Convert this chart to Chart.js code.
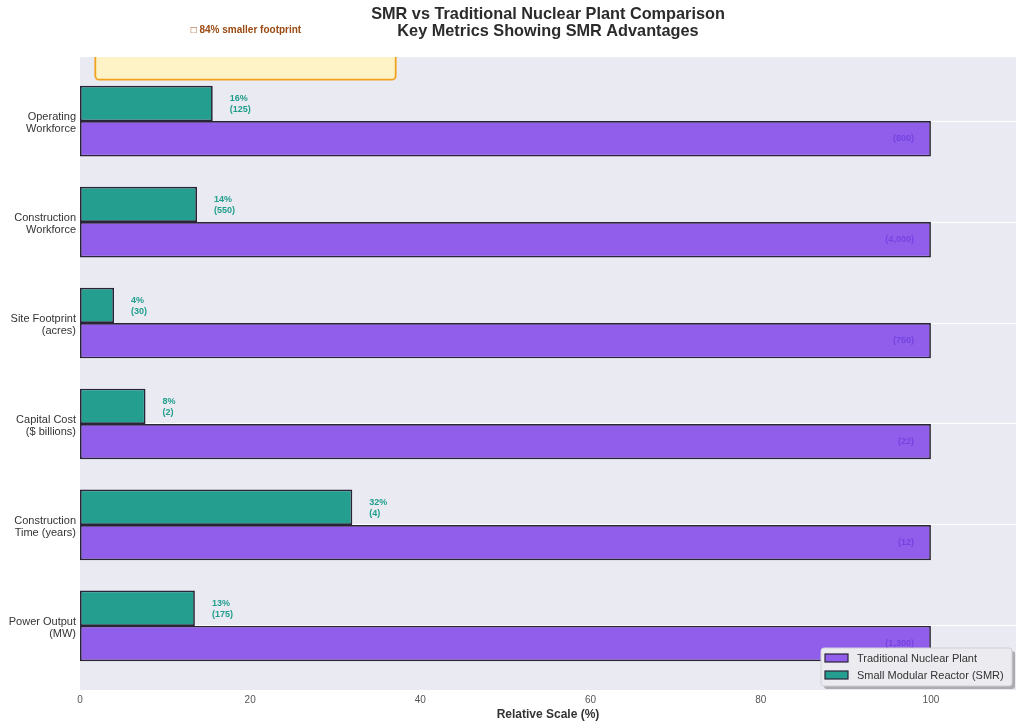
<!DOCTYPE html>
<html>
<head>
<meta charset="utf-8">
<script src="https://cdn.jsdelivr.net/npm/chart.js@4.4.1/dist/chart.umd.min.js"></script>
<style>
html,body{margin:0;padding:0;background:#fff;}
#wrap{width:1024px;height:728px;}
</style>
</head>
<body>
<div id="wrap"><canvas id="c" width="1024" height="728"></canvas></div>
<script>
// ---- data (bottom to top) ----
const categories = [["Power Output","(MW)"],["Construction","Time (years)"],["Capital Cost","($ billions)"],["Site Footprint","(acres)"],["Construction","Workforce"],["Operating","Workforce"]];
const traditionalPct = [100, 100, 100, 100, 100, 100];
const smrPct = [13.5, 32, 7.7, 4, 13.75, 15.6];
const smrPctLabels = ["13%", "32%", "8%", "4%", "14%", "16%"];
const smrRawLabels = ["(175)", "(4)", "(2)", "(30)", "(550)", "(125)"];
const tradRawLabels = ["(1,300)", "(12)", "(22)", "(750)", "(4,000)", "(800)"];
const xTicks = [0, 20, 40, 60, 80, 100];
const titleLines = ['SMR vs Traditional Nuclear Plant Comparison', 'Key Metrics Showing SMR Advantages'];
const calloutText = "\u25A1 84% smaller footprint";

const TEAL = '#239E8F';
const PURPLE = '#915EEB';
const EDGE = '#2a2438';

Chart.defaults.font.family = "'Liberation Sans', Arial, sans-serif";

const bgPlugin = {
  id: 'bg',
  beforeDraw(chart) {
    const {ctx, chartArea: a} = chart;
    ctx.save();
    ctx.fillStyle = '#EAEAF2';
    ctx.fillRect(a.left, a.top, a.right - a.left, a.bottom - a.top);
    ctx.restore();
  },
  beforeDatasetsDraw(chart) {
    const {ctx, chartArea: a, scales} = chart;
    const x = scales.x, y = scales.y;
    ctx.save();
    ctx.beginPath();
    ctx.rect(a.left, a.top, a.right - a.left, a.bottom - a.top);
    ctx.clip();
    const x0 = x.getPixelForValue(1.8), x1 = x.getPixelForValue(37.1);
    const yb = y.getPixelForValue(5.41);
    const yt = a.top - 30;
    ctx.beginPath();
    ctx.roundRect(x0, yt, x1 - x0, yb - yt, 4);
    ctx.fillStyle = '#FEF3C7';
    ctx.fill();
    ctx.lineWidth = 1.8;
    ctx.strokeStyle = '#F2A21E';
    ctx.stroke();
    ctx.restore();
  },
  afterDatasetsDraw(chart) {
    const {ctx, scales} = chart;
    const x = scales.x;
    const mSmr = chart.getDatasetMeta(0);
    const mTrad = chart.getDatasetMeta(1);
    ctx.save();
    ctx.font = "bold 9px 'Liberation Sans', Arial, sans-serif";
    ctx.textBaseline = 'middle';
    mSmr.data.forEach((bar, i) => {
      const tx = x.getPixelForValue(smrPct[i] + 2);
      ctx.fillStyle = '#1f9e8c';
      ctx.textAlign = 'left';
      ctx.fillText(smrPctLabels[i], tx, bar.y - 5);
      ctx.fillText(smrRawLabels[i], tx, bar.y + 6);
    });
    mTrad.data.forEach((bar, i) => {
      const tx = x.getPixelForValue(98);
      ctx.fillStyle = 'rgba(112,62,222,0.85)';
      ctx.textAlign = 'right';
      ctx.fillText(tradRawLabels[i], tx, bar.y);
    });
    ctx.restore();
  },
  afterDraw(chart) {
    const {ctx, chartArea: a, scales} = chart;
    ctx.save();
    // title centred over the plot area
    const cx = (a.left + a.right) / 2;
    ctx.font = "bold 16.3px 'Liberation Sans', Arial, sans-serif";
    ctx.fillStyle = '#2b2b2b';
    ctx.textAlign = 'center';
    ctx.textBaseline = 'middle';
    ctx.fillText(titleLines[0], cx, 15);
    ctx.fillText(titleLines[1], cx, 32);
    // callout text
    ctx.font = "bold 10px 'Liberation Sans', Arial, sans-serif";
    ctx.fillStyle = '#9A4A12';
    ctx.fillText(calloutText, scales.x.getPixelForValue(19.5), a.top - 27);
    // legend
    const lx = 821, ly = 648, lw = 191, lh = 38;
    ctx.fillStyle = 'rgba(120,120,120,0.55)';
    ctx.beginPath(); ctx.roundRect(lx + 3, ly + 3, lw, lh, 3); ctx.fill();
    ctx.fillStyle = '#EBEBF0';
    ctx.strokeStyle = '#cfcfd6';
    ctx.lineWidth = 1;
    ctx.beginPath(); ctx.roundRect(lx, ly, lw, lh, 3); ctx.fill(); ctx.stroke();
    const items = chart.data.datasets.slice().reverse();
    ctx.font = "11px 'Liberation Sans', Arial, sans-serif";
    ctx.textAlign = 'left';
    items.forEach((ds, k) => {
      const cy = ly + 10 + k * 17;
      ctx.fillStyle = ds.backgroundColor;
      ctx.fillRect(lx + 4, cy - 4, 23, 8);
      ctx.strokeStyle = EDGE;
      ctx.lineWidth = 1.2;
      ctx.strokeRect(lx + 4, cy - 4, 23, 8);
      ctx.fillStyle = '#333';
      ctx.fillText(ds.label, lx + 36, cy + 0.5);
    });
    ctx.restore();
  }
};

new Chart(document.getElementById('c'), {
  type: 'bar',
  data: {
    datasets: [
      {
        label: 'Small Modular Reactor (SMR)',
        data: smrPct.map((v, i) => ({x: v, y: i})),
        backgroundColor: TEAL,
        borderColor: EDGE,
        borderWidth: 1.7,
        borderSkipped: false,
        categoryPercentage: 0.7,
        barPercentage: 1.0
      },
      {
        label: 'Traditional Nuclear Plant',
        data: traditionalPct.map((v, i) => ({x: v, y: i})),
        backgroundColor: PURPLE,
        borderColor: EDGE,
        borderWidth: 1.7,
        borderSkipped: false,
        categoryPercentage: 0.7,
        barPercentage: 1.0
      }
    ]
  },
  options: {
    indexAxis: 'y',
    responsive: false,
    animation: false,
    devicePixelRatio: 1,
    layout: { padding: { left: 0, right: 8, top: 57, bottom: 0 } },
    plugins: {
      legend: { display: false },
      tooltip: { enabled: false },
      title: { display: false }
    },
    scales: {
      x: {
        type: 'linear',
        min: 0,
        max: 110,
        grid: { display: false, drawTicks: false },
        border: { display: false },
        afterBuildTicks(scale) { scale.ticks = xTicks.map(v => ({value: v})); },
        afterFit(scale) { scale.height = 38; },
        ticks: { color: '#555', font: { size: 10 }, padding: 4 },
        title: {
          display: true,
          text: 'Relative Scale (%)',
          color: '#333',
          font: { size: 12, weight: 'bold' },
          padding: { top: 0, bottom: 6 }
        }
      },
      y: {
        type: 'linear',
        min: -0.635,
        max: 5.635,
        offset: false,
        grid: { color: '#ffffff', lineWidth: 1, drawTicks: false, offset: false },
        border: { display: false },
        afterBuildTicks(scale) { scale.ticks = categories.map((c, i) => ({value: i})); },
        afterFit(scale) { scale.width = 80; },
        ticks: {
          color: '#333',
          font: { size: 11, lineHeight: 1.1 },
          padding: 4,
          labelOffset: 2,
          callback: (v) => categories[v] || ''
        }
      }
    }
  },
  plugins: [bgPlugin]
});
</script>
</body>
</html>
